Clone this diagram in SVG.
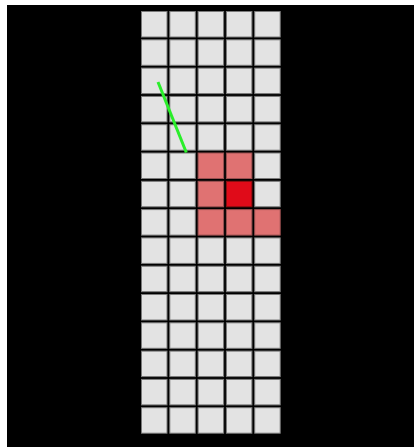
<svg xmlns="http://www.w3.org/2000/svg" width="414" height="447" viewBox="0 0 414 447">
<style>
.c{fill:#e3e3e3;stroke:#7a7a7a;stroke-width:1}
.r{fill:#e07272;stroke:#9a5050;stroke-width:1}
.d{fill:#e00b19;stroke:#8a1010;stroke-width:1}
</style>
<defs>
<radialGradient id="hl" cx="265" cy="320" r="70" gradientUnits="userSpaceOnUse">
<stop offset="0" stop-color="#ffffff" stop-opacity="0.35"/>
<stop offset="1" stop-color="#ffffff" stop-opacity="0"/>
</radialGradient>
</defs>
<rect x="0" y="0" width="414" height="447" fill="#ffffff"/>
<rect x="7" y="5" width="407" height="442" fill="#000000"/>
<g id="grid">
<g id="row0"><rect class="c" x="141.5" y="11.5" width="25.5" height="25.5"/><rect class="c" x="169.8" y="11.5" width="25.5" height="25.5"/><rect class="c" x="198.1" y="11.5" width="25.5" height="25.5"/><rect class="c" x="226.4" y="11.5" width="25.5" height="25.5"/><rect class="c" x="254.7" y="11.5" width="25.5" height="25.5"/></g>
<g id="row1"><rect class="c" x="141.5" y="39.8" width="25.5" height="25.5"/><rect class="c" x="169.8" y="39.8" width="25.5" height="25.5"/><rect class="c" x="198.1" y="39.8" width="25.5" height="25.5"/><rect class="c" x="226.4" y="39.8" width="25.5" height="25.5"/><rect class="c" x="254.7" y="39.8" width="25.5" height="25.5"/></g>
<g id="row2"><rect class="c" x="141.5" y="68.1" width="25.5" height="25.5"/><rect class="c" x="169.8" y="68.1" width="25.5" height="25.5"/><rect class="c" x="198.1" y="68.1" width="25.5" height="25.5"/><rect class="c" x="226.4" y="68.1" width="25.5" height="25.5"/><rect class="c" x="254.7" y="68.1" width="25.5" height="25.5"/></g>
<g id="row3"><rect class="c" x="141.5" y="96.4" width="25.5" height="25.5"/><rect class="c" x="169.8" y="96.4" width="25.5" height="25.5"/><rect class="c" x="198.1" y="96.4" width="25.5" height="25.5"/><rect class="c" x="226.4" y="96.4" width="25.5" height="25.5"/><rect class="c" x="254.7" y="96.4" width="25.5" height="25.5"/></g>
<g id="row4"><rect class="c" x="141.5" y="124.7" width="25.5" height="25.5"/><rect class="c" x="169.8" y="124.7" width="25.5" height="25.5"/><rect class="c" x="198.1" y="124.7" width="25.5" height="25.5"/><rect class="c" x="226.4" y="124.7" width="25.5" height="25.5"/><rect class="c" x="254.7" y="124.7" width="25.5" height="25.5"/></g>
<g id="row5"><rect class="c" x="141.5" y="153" width="25.5" height="25.5"/><rect class="c" x="169.8" y="153" width="25.5" height="25.5"/><rect class="r" x="198.1" y="153" width="25.5" height="25.5"/><rect class="r" x="226.4" y="153" width="25.5" height="25.5"/><rect class="c" x="254.7" y="153" width="25.5" height="25.5"/></g>
<g id="row6"><rect class="c" x="141.5" y="181.3" width="25.5" height="25.5"/><rect class="c" x="169.8" y="181.3" width="25.5" height="25.5"/><rect class="r" x="198.1" y="181.3" width="25.5" height="25.5"/><rect class="d" x="226.4" y="181.3" width="25.5" height="25.5"/><rect class="c" x="254.7" y="181.3" width="25.5" height="25.5"/></g>
<g id="row7"><rect class="c" x="141.5" y="209.6" width="25.5" height="25.5"/><rect class="c" x="169.8" y="209.6" width="25.5" height="25.5"/><rect class="r" x="198.1" y="209.6" width="25.5" height="25.5"/><rect class="r" x="226.4" y="209.6" width="25.5" height="25.5"/><rect class="r" x="254.7" y="209.6" width="25.5" height="25.5"/></g>
<g id="row8"><rect class="c" x="141.5" y="237.9" width="25.5" height="25.5"/><rect class="c" x="169.8" y="237.9" width="25.5" height="25.5"/><rect class="c" x="198.1" y="237.9" width="25.5" height="25.5"/><rect class="c" x="226.4" y="237.9" width="25.5" height="25.5"/><rect class="c" x="254.7" y="237.9" width="25.5" height="25.5"/></g>
<g id="row9"><rect class="c" x="141.5" y="266.2" width="25.5" height="25.5"/><rect class="c" x="169.8" y="266.2" width="25.5" height="25.5"/><rect class="c" x="198.1" y="266.2" width="25.5" height="25.5"/><rect class="c" x="226.4" y="266.2" width="25.5" height="25.5"/><rect class="c" x="254.7" y="266.2" width="25.5" height="25.5"/></g>
<g id="row10"><rect class="c" x="141.5" y="294.5" width="25.5" height="25.5"/><rect class="c" x="169.8" y="294.5" width="25.5" height="25.5"/><rect class="c" x="198.1" y="294.5" width="25.5" height="25.5"/><rect class="c" x="226.4" y="294.5" width="25.5" height="25.5"/><rect class="c" x="254.7" y="294.5" width="25.5" height="25.5"/></g>
<g id="row11"><rect class="c" x="141.5" y="322.8" width="25.5" height="25.5"/><rect class="c" x="169.8" y="322.8" width="25.5" height="25.5"/><rect class="c" x="198.1" y="322.8" width="25.5" height="25.5"/><rect class="c" x="226.4" y="322.8" width="25.5" height="25.5"/><rect class="c" x="254.7" y="322.8" width="25.5" height="25.5"/></g>
<g id="row12"><rect class="c" x="141.5" y="351.1" width="25.5" height="25.5"/><rect class="c" x="169.8" y="351.1" width="25.5" height="25.5"/><rect class="c" x="198.1" y="351.1" width="25.5" height="25.5"/><rect class="c" x="226.4" y="351.1" width="25.5" height="25.5"/><rect class="c" x="254.7" y="351.1" width="25.5" height="25.5"/></g>
<g id="row13"><rect class="c" x="141.5" y="379.4" width="25.5" height="25.5"/><rect class="c" x="169.8" y="379.4" width="25.5" height="25.5"/><rect class="c" x="198.1" y="379.4" width="25.5" height="25.5"/><rect class="c" x="226.4" y="379.4" width="25.5" height="25.5"/><rect class="c" x="254.7" y="379.4" width="25.5" height="25.5"/></g>
<g id="row14"><rect class="c" x="141.5" y="407.7" width="25.5" height="25.5"/><rect class="c" x="169.8" y="407.7" width="25.5" height="25.5"/><rect class="c" x="198.1" y="407.7" width="25.5" height="25.5"/><rect class="c" x="226.4" y="407.7" width="25.5" height="25.5"/><rect class="c" x="254.7" y="407.7" width="25.5" height="25.5"/></g>
</g>
<g id="connectors">
<line x1="158" y1="82" x2="186.3" y2="152.5" stroke="#2aee2a" stroke-width="3" stroke-linecap="butt"/>
</g>
</svg>
